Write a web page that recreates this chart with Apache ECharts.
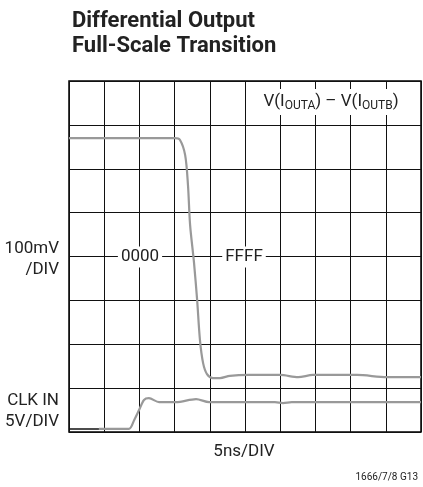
<!DOCTYPE html>
<html>
<head>
<meta charset="utf-8">
<title>Differential Output Full-Scale Transition</title>
<script src="https://cdn.jsdelivr.net/npm/echarts@6/dist/echarts.min.js"></script>
<style>
  html, body { margin: 0; padding: 0; background: #fff; }
  #main { width: 423px; height: 487px; }
</style>
</head>
<body>
<div id="main"></div>
<script>
// values in scope divisions: x = 5ns/DIV, y counted from bottom of screen
const outX = [0, 3.01, 3.15, 3.30, 3.38, 3.44, 3.55, 3.64, 3.72, 3.81, 3.92, 4.09, 4.29, 4.57, 5.11, 6.0, 6.51, 6.93, 8.18, 9.03, 10];
const outY = [6.70, 6.70, 6.66, 6.31, 5.63, 4.72, 3.87, 3.01, 2.10, 1.57, 1.32, 1.23, 1.23, 1.28, 1.30, 1.30, 1.25, 1.30, 1.30, 1.25, 1.25];

const clkX = [0.85, 1.70, 1.85, 1.99, 2.13, 2.27, 2.56, 3.04, 3.61, 3.98, 5.11, 5.85, 6.08, 6.33, 10];
const clkY = [0.07, 0.07, 0.27, 0.50, 0.73, 0.77, 0.68, 0.68, 0.75, 0.68, 0.68, 0.68, 0.66, 0.68, 0.68];

// ground marker for the clock trace
const markX = [0, 0.85];
const markY = [0.07, 0.07];

const codeLabels = ['0000', 'FFFF'];

const font = "'Liberation Sans Narrow', 'Roboto', sans-serif";

function pairs(xs, ys) {
  return xs.map(function (x, i) { return [x, ys[i]]; });
}

const chart = echarts.init(document.getElementById('main'), null, { renderer: 'canvas' });

const option = {
  backgroundColor: '#ffffff',
  animation: false,
  grid: {
    left: 69, right: 2, top: 81, bottom: 55,
    show: true, borderColor: '#000', borderWidth: 1.5,
    containLabel: false
  },
  xAxis: {
    type: 'value', min: 0, max: 10, interval: 1,
    axisLine: { show: false }, axisTick: { show: false }, axisLabel: { show: false },
    splitLine: { show: true, lineStyle: { color: '#111', width: 1 } }
  },
  yAxis: {
    type: 'value', min: 0, max: 8, interval: 1,
    axisLine: { show: false }, axisTick: { show: false }, axisLabel: { show: false },
    splitLine: { show: true, lineStyle: { color: '#111', width: 1 } }
  },
  series: [
    {
      type: 'line', data: pairs(outX, outY), showSymbol: false, smooth: 0.3,
      lineStyle: { color: '#999', width: 2.2 }, z: 3
    },
    {
      type: 'line', data: pairs(clkX, clkY), showSymbol: false, smooth: 0.3,
      lineStyle: { color: '#999', width: 2.2 }, z: 3
    },
    {
      type: 'line', data: pairs(markX, markY), showSymbol: false,
      lineStyle: { color: '#111', width: 1.5 }, z: 3
    }
  ],
  graphic: [
    {
      type: 'text', left: 72, top: 9,
      style: { text: 'Differential Output\nFull-Scale Transition', font: 'bold 22px ' + font, fill: '#222', lineHeight: 25 }
    },
    {
      type: 'text', x: 331, y: 102, z: 10,
      style: {
        text: '{a|V(I}{s|OUTA}{a|) – V(I}{s|OUTB}{a|)}',
        align: 'center', verticalAlign: 'middle',
        backgroundColor: '#fff', padding: [3, 3, 3, 3],
        rich: {
          a: { fontSize: 17, fontFamily: font, fill: '#222', lineHeight: 20 },
          s: { fontSize: 12, fontFamily: font, fill: '#222', lineHeight: 20, padding: [8, 0, 0, 0] }
        }
      }
    },
    {
      type: 'text', x: 140, y: 257, z: 10,
      style: { text: codeLabels[0], align: 'center', verticalAlign: 'middle', font: '17px ' + font, fill: '#222', backgroundColor: '#fff', padding: [2, 3] }
    },
    {
      type: 'text', x: 244, y: 257, z: 10,
      style: { text: codeLabels[1], align: 'center', verticalAlign: 'middle', font: '17px ' + font, fill: '#222', backgroundColor: '#fff', padding: [2, 3] }
    },
    {
      type: 'text', x: 59, y: 259,
      style: { text: '100mV\n/DIV', align: 'right', verticalAlign: 'middle', font: '17px ' + font, fill: '#222', lineHeight: 21 }
    },
    {
      type: 'text', x: 59, y: 411,
      style: { text: 'CLK IN\n5V/DIV', align: 'right', verticalAlign: 'middle', font: '17px ' + font, fill: '#222', lineHeight: 21 }
    },
    {
      type: 'text', x: 244, y: 452,
      style: { text: '5ns/DIV', align: 'center', verticalAlign: 'middle', font: '17px ' + font, fill: '#222' }
    },
    {
      type: 'text', x: 418, y: 477,
      style: { text: '1666/7/8 G13', align: 'right', verticalAlign: 'middle', font: '10px ' + font, fill: '#222' }
    }
  ]
};

chart.setOption(option);
</script>
</body>
</html>
